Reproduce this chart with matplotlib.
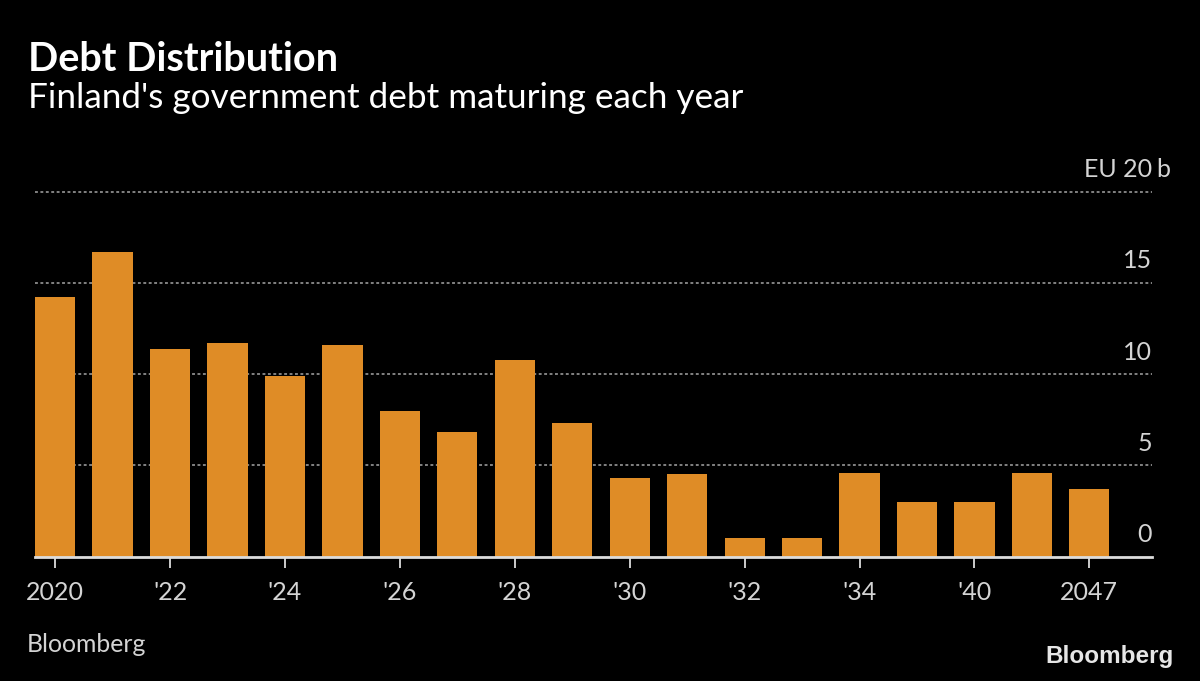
import matplotlib
matplotlib.use("Agg")
import matplotlib.pyplot as plt
from matplotlib import font_manager
from matplotlib.transforms import offset_copy

# ---- data ----
years = [2020, 2021, 2022, 2023, 2024, 2025, 2026, 2027, 2028, 2029,
         2030, 2031, 2032, 2033, 2034, 2039, 2040, 2042, 2047]
debt_bn = [14.2, 16.7, 11.4, 11.7, 9.9, 11.6, 8.0, 6.8, 10.8, 7.3,
           4.3, 4.5, 1.0, 1.0, 4.6, 3.0, 3.0, 4.6, 3.7]
tick_labels = ["2020", "", "'22", "", "'24", "", "'26", "", "'28", "",
               "'30", "", "'32", "", "'34", "", "'40", "", "2047"]
y_ticks = [0, 5, 10, 15, 20]
y_tick_labels = ["0", "5", "10", "15", "20"]

title = "Debt Distribution"
subtitle = "Finland's government debt maturing each year"
source = "Bloomberg"

# ---- fonts ----
available = {f.name for f in font_manager.fontManager.ttflist}
base_font = "Lato" if "Lato" in available else "DejaVu Sans"
logo_font = "Liberation Sans" if "Liberation Sans" in available else "DejaVu Sans"
plt.rcParams["font.family"] = [base_font, "DejaVu Sans"]

BAR = "#DF8C26"
GRID = "#8c8c8c"
AXIS = "#dcdcdc"
TXT = "#d4d4d4"

W, H = 1200, 681
fig = plt.figure(figsize=(W / 100, H / 100), dpi=100, facecolor="black")

x0, x1 = 35, 1152
y0, y1 = 556.5, 191.7
ax = fig.add_axes([x0 / W, 1 - y0 / H, (x1 - x0) / W, (y0 - y1) / H])
ax.set_facecolor("black")

pos = list(range(len(years)))
ax.bar(pos, debt_bn, width=0.7, color=BAR, zorder=3)

ax.set_xlim(-0.35, 19.09)
ax.set_ylim(0, 20)

# grid lines
for v in y_ticks[1:]:
    ax.axhline(v, color=GRID, lw=1.3, ls=(0, (1.6, 1.4)), zorder=1, clip_on=False)

# y labels above the grid lines at the right
ytrans = offset_copy(ax.get_yaxis_transform(), fig=fig, x=0, y=10.5, units="points")
for v, lab in zip(y_ticks, y_tick_labels):
    if v == 20:
        ax.text(1.0, v, "EU 20", transform=ytrans, ha="right", va="baseline",
                fontsize=18, color=TXT)
        btrans = offset_copy(ax.get_yaxis_transform(), fig=fig, x=3, y=10.5, units="points")
        ax.text(1.0, v, "b", transform=btrans, ha="left", va="baseline",
                fontsize=18, color=TXT)
    else:
        ax.text(1.0, v, lab, transform=ytrans, ha="right", va="baseline",
                fontsize=18, color=TXT)

ax.set_yticks([])
tick_pos = [p for p, l in zip(pos, tick_labels) if l]
ax.set_xticks(tick_pos)
ax.set_xticklabels([l for l in tick_labels if l])
ax.tick_params(axis="x", colors=AXIS, length=8, width=1.3, pad=10,
               labelsize=18, labelcolor=TXT)

for s in ["top", "right", "left"]:
    ax.spines[s].set_visible(False)
ax.spines["bottom"].set_color(AXIS)
ax.spines["bottom"].set_linewidth(2)
ax.spines["bottom"].set_zorder(4)

# titles
fig.text(28 / W, 1 - 71 / H, title, fontsize=28.5, fontweight="bold",
         color="white", ha="left", va="baseline")
fig.text(28 / W, 1 - 108 / H, subtitle, fontsize=25.3, color="white",
         ha="left", va="baseline")
fig.text(27 / W, 1 - 652 / H, source, fontsize=17.8, color=TXT,
         ha="left", va="baseline")
fig.text(1174 / W, 1 - 663 / H, "Bloomberg", fontsize=17.5, fontweight="bold",
         color="#e6e6e6", ha="right", va="baseline", family=logo_font)

fig.savefig("out.png", dpi=100, facecolor="black")
